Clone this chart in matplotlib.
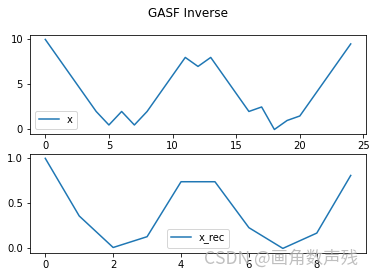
import matplotlib
matplotlib.use("Agg")
import matplotlib.pyplot as plt

# original series and its reconstruction
x_vals = [10, 8, 6, 4, 2, 0.5, 2, 0.5, 2, 4, 6, 8, 7, 8, 6, 4, 2, 2.5, 0, 1, 1.5, 3.5, 5.5, 7.5, 9.5]
x_rec_vals = [1.0, 0.36, 0.01, 0.13, 0.74, 0.74, 0.23, 0.0, 0.17, 0.81]

fig, (ax1, ax2) = plt.subplots(2, 1, figsize=(375 / 72, 277 / 72), dpi=72)
fig.subplots_adjust(left=0.08, right=0.976, top=0.874, bottom=0.087, hspace=0.2)
fig.suptitle("GASF Inverse", y=0.975)

ax1.plot(x_vals, label="x")
ax1.legend(loc="lower left")

ax2.plot(x_rec_vals, label="x_rec")
ax2.legend(loc="lower center")

# watermark
fig.text(0.955, 0.035, "CSDN @画角数声残", ha="right", va="bottom", fontsize=17.5,
         color="#b0b0b0", alpha=0.8, family=["Noto Sans CJK SC", "DejaVu Sans"])

fig.savefig("out.png", dpi=72)
